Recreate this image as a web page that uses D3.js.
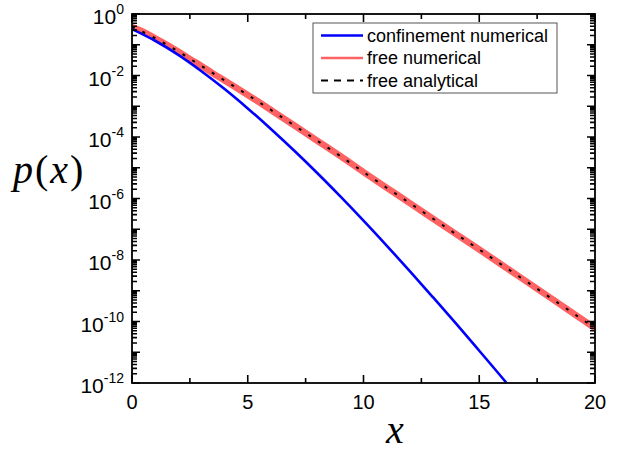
<!DOCTYPE html>
<html lang="en">
<head>
  <meta charset="utf-8">
  <title>p(x)</title>
  <script src="https://d3js.org/d3.v7.min.js"></script>
<style>
body { margin: 0; background: #fff; }
svg { display: block; }
.legend text { font-family: "Liberation Sans", Arial, sans-serif; font-size: 18px; }
</style>
</head>
<body>
<svg width="619" height="453"></svg>
<script>

// values
var confX = [0, 1, 2, 3, 4, 5, 6, 7, 8, 9, 10, 11, 12, 13, 14, 15, 16, 16.5];
var confP = [0.324, 0.135, 0.0468, 0.0138, 3.63e-3, 8.51e-4, 1.82e-4, 3.63e-5, 6.76e-6,
             1.17e-6, 1.91e-7, 2.95e-8, 4.37e-9, 6.17e-10, 8.51e-11, 1.12e-11, 1.45e-12, 5.1e-13];

var freeX = [0, 0.5, 1, 1.5, 2, 2.5, 3, 3.5, 4, 5, 6, 7, 8, 9, 10, 12, 14, 15, 16, 18, 20];
var freeP = [0.380, 0.263, 0.162, 0.100, 0.0603, 0.0347, 0.0204, 0.0117, 6.92e-3, 2.34e-3,
             7.59e-4, 2.40e-4, 7.59e-5, 2.40e-5, 7.24e-6, 7.08e-7, 6.92e-8, 2.19e-8, 6.76e-9,
             6.46e-10, 6.03e-11];

var anaX = [0, 1, 2, 3, 4, 5, 6, 7, 8, 9, 10, 11, 12, 13, 14, 15, 16, 17, 18, 19, 20];
var anaP = [0.380, 0.165, 0.0603, 0.0204, 6.92e-3, 2.34e-3, 7.59e-4, 2.40e-4, 7.59e-5, 2.40e-5,
            7.24e-6, 2.24e-6, 7.08e-7, 2.21e-7, 6.92e-8, 2.19e-8, 6.76e-9, 2.09e-9, 6.46e-10,
            1.99e-10, 6.03e-11];

var xMajor = [0, 5, 10, 15, 20];
var xMinor = [2.5, 7.5, 12.5, 17.5];
var yExp = [0, -1, -2, -3, -4, -5, -6, -7, -8, -9, -10, -11, -12];
var yLabelExp = [0, -2, -4, -6, -8, -10, -12];

var legendNames = ["confinement numerical", "free numerical", "free analytical"];

var svg = d3.select("svg"),
    margin = {top: 14, right: 24, bottom: 70, left: 132},
    width = +svg.attr("width") - margin.left - margin.right,
    height = +svg.attr("height") - margin.top - margin.bottom;

var x = d3.scaleLinear().domain([0, 20]).range([0, width]);
var y = d3.scaleLog().domain([1e-12, 1]).range([height, 0]);

var g = svg.append("g")
    .attr("transform", "translate(" + margin.left + "," + margin.top + ")");

svg.append("defs").append("clipPath").attr("id", "plot")
  .append("rect").attr("width", width).attr("height", height);

var yMinor = [];
yExp.slice(1).forEach(function(e) {
  for (var k = 2; k <= 9; k++) yMinor.push(k * Math.pow(10, e));
});
var yMajor = yExp.map(function(e) { return Math.pow(10, e); });

// curves
var line = d3.line()
    .x(function(d) { return x(d[0]); })
    .y(function(d) { return y(d[1]); })
    .curve(d3.curveMonotoneX);

var lines = g.append("g").attr("clip-path", "url(#plot)");

lines.append("path")
    .attr("d", line(d3.zip(freeX, freeP)))
    .attr("fill", "none").attr("stroke", "#ff6262").attr("stroke-width", 6.5);

lines.append("path")
    .attr("d", line(d3.zip(confX, confP)))
    .attr("fill", "none").attr("stroke", "#0000ff").attr("stroke-width", 2.6);

lines.append("path")
    .attr("d", line(d3.zip(anaX, anaP)))
    .attr("fill", "none").attr("stroke", "#000").attr("stroke-width", 2)
    .attr("stroke-dasharray", "3,8.5");

// ticks, all pointing inward on the four sides
var tp = d3.path();
function xTicks(vals, len) {
  vals.forEach(function(d) {
    var px = x(d);
    tp.moveTo(px, height); tp.lineTo(px, height - len);
    tp.moveTo(px, 0); tp.lineTo(px, len);
  });
}
function yTicks(vals, len) {
  vals.forEach(function(d) {
    var py = y(d);
    tp.moveTo(0, py); tp.lineTo(len, py);
    tp.moveTo(width, py); tp.lineTo(width - len, py);
  });
}
xTicks(xMajor, 8);
xTicks(xMinor, 5);
yTicks(yMajor, 8);
yTicks(yMinor, 5);
g.append("path").attr("d", tp.toString())
    .attr("fill", "none").attr("stroke", "#000").attr("stroke-width", 1.6);

// frame
g.append("rect").attr("width", width).attr("height", height)
    .attr("fill", "none").attr("stroke", "#000").attr("stroke-width", 1.8);

// tick labels
g.append("g").selectAll("text").data(xMajor).enter().append("text")
    .attr("x", function(d) { return x(d); })
    .attr("y", height + 26)
    .attr("text-anchor", "middle")
    .style("font", "20px 'Liberation Sans', Arial, sans-serif")
    .text(function(d) { return d; });

var yl = g.append("g").selectAll("text").data(yLabelExp).enter().append("text")
    .attr("x", -8)
    .attr("y", function(d) { return y(Math.pow(10, d)) + 10; })
    .attr("text-anchor", "end")
    .style("font", "21px 'Liberation Sans', Arial, sans-serif");
yl.append("tspan").text("10");
yl.append("tspan").attr("dy", -10).style("font-size", "14px")
    .text(function(d) { return d === 0 ? "0" : "-" + (-d); });

// legend
var leg = g.append("g").attr("class", "legend").attr("transform", "translate(181,9)");
leg.append("rect").attr("width", 244).attr("height", 70)
    .attr("fill", "#fff").attr("stroke", "#555").attr("stroke-width", 1);
var styles = [
  {stroke: "#0000ff", w: 2.5, dash: null},
  {stroke: "#ff6262", w: 2.5, dash: null},
  {stroke: "#000", w: 2, dash: "7,6"}
];
var row = leg.selectAll("g.row").data(legendNames).enter().append("g")
    .attr("class", "row")
    .attr("transform", function(d, i) { return "translate(0," + (12.5 + i * 22.5) + ")"; });
row.append("line").attr("x1", 8).attr("x2", 50)
    .attr("stroke", function(d, i) { return styles[i].stroke; })
    .attr("stroke-width", function(d, i) { return styles[i].w; })
    .attr("stroke-dasharray", function(d, i) { return styles[i].dash; });
row.append("text").attr("x", 54).attr("y", 6).text(function(d) { return d; });

// axis titles
svg.append("text")
    .attr("x", 395).attr("y", 443)
    .attr("text-anchor", "middle")
    .style("font", "italic 40px 'Liberation Serif', 'DejaVu Serif', serif")
    .text("x");

var pl = svg.append("text")
    .attr("x", 13).attr("y", 183)
    .style("font", "40px 'Liberation Serif', 'DejaVu Serif', serif")
    .style("letter-spacing", "2px");
pl.append("tspan").style("font-style", "italic").text("p");
pl.append("tspan").text("(");
pl.append("tspan").style("font-style", "italic").text("x");
pl.append("tspan").text(")");

</script>
</body>
</html>
